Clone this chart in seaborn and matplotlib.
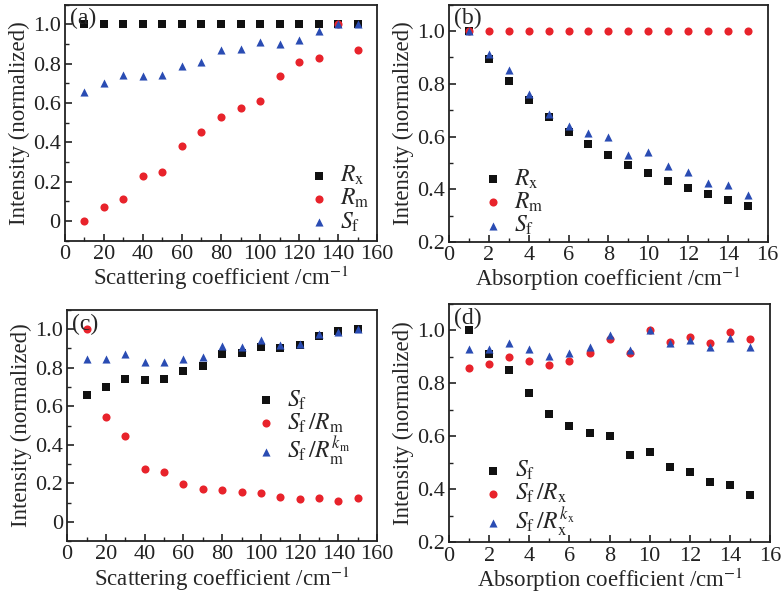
import matplotlib
matplotlib.use("Agg")
import matplotlib.pyplot as plt
from matplotlib.ticker import MultipleLocator, FuncFormatter
import seaborn as sns
import pandas as pd

# Data
scat = [10, 20, 30, 40, 50, 60, 70, 80, 90, 100, 110, 120, 130, 140, 150]
absn = [1, 2, 3, 4, 5, 6, 7, 8, 9, 10, 11, 12, 13, 14, 15]

# (a) vary scattering
a_rx = [1.0] * 15
a_rm = [0.0, 0.072, 0.114, 0.23, 0.25, 0.38, 0.455, 0.53, 0.576, 0.61, 0.738, 0.81, 0.83, 1.0, 0.869]
a_sf = [0.656, 0.702, 0.743, 0.739, 0.744, 0.787, 0.81, 0.872, 0.876, 0.911, 0.903, 0.92, 0.969, 1.0, 1.0]

# (b) vary absorption
b_rx = [1.0, 0.893, 0.811, 0.738, 0.673, 0.619, 0.572, 0.529, 0.493, 0.462, 0.433, 0.406, 0.381, 0.358, 0.336]
b_rm = [1.0] * 15
b_sf = [1.0, 0.912, 0.851, 0.762, 0.684, 0.641, 0.613, 0.599, 0.529, 0.540, 0.488, 0.467, 0.425, 0.415, 0.380]

# (c) corrected, vary scattering
c_sf = [0.656, 0.699, 0.741, 0.738, 0.743, 0.784, 0.807, 0.872, 0.875, 0.908, 0.901, 0.916, 0.966, 0.991, 1.0]
c_sf_rm = [1.0, 0.545, 0.445, 0.276, 0.26, 0.197, 0.173, 0.163, 0.154, 0.152, 0.127, 0.118, 0.122, 0.106, 0.122]
c_sf_rmk = [0.846, 0.846, 0.873, 0.829, 0.830, 0.844, 0.858, 0.914, 0.909, 0.942, 0.918, 0.925, 0.973, 0.986, 1.0]

# (d) corrected, vary absorption
d_sf = [1.0, 0.91, 0.851, 0.763, 0.683, 0.64, 0.613, 0.60, 0.53, 0.54, 0.485, 0.464, 0.426, 0.416, 0.38]
d_sf_rx = [0.859, 0.872, 0.90, 0.885, 0.869, 0.884, 0.916, 0.969, 0.916, 1.0, 0.958, 0.975, 0.954, 0.994, 0.966]
d_sf_rxk = [0.929, 0.931, 0.953, 0.93, 0.904, 0.914, 0.939, 0.982, 0.926, 1.0, 0.954, 0.965, 0.938, 0.97, 0.938]

BLACK = "#111111"
RED = "#e8232b"
BLUE = "#2a4cb3"

sns.set_theme(style="ticks")
plt.rcParams.update(
    {
        "font.family": ["Liberation Serif", "DejaVu Serif"],
        "mathtext.fontset": "stix",
        "axes.linewidth": 1.3,
        "xtick.direction": "in",
        "ytick.direction": "in",
        "xtick.major.size": 5,
        "ytick.major.size": 5,
        "xtick.minor.size": 3,
        "ytick.minor.size": 3,
        "xtick.major.width": 1.2,
        "ytick.major.width": 1.2,
        "xtick.minor.width": 1.0,
        "ytick.minor.width": 1.0,
        "axes.edgecolor": "#222222",
        "xtick.color": "#222222",
        "ytick.color": "#222222",
    }
)


def yfmt(v, pos):
    return "0" if abs(v) < 1e-9 else f"{v:.1f}"


def panel(fig, rect, x, series, tag, xlabel, xlim, xmajor, ylim, legend_loc, legend_anchor):
    ax = fig.add_axes(rect)
    for vals, label, color, marker in series:
        df = pd.DataFrame({"x": x, "y": vals})
        sns.scatterplot(
            data=df, x="x", y="y", ax=ax, color=color, marker=marker,
            s=34, linewidth=0, label=label, zorder=3,
        )
    ax.set_xlim(*xlim)
    ax.set_ylim(*ylim)
    ax.xaxis.set_major_locator(MultipleLocator(xmajor))
    ax.xaxis.set_minor_locator(MultipleLocator(xmajor / 2))
    ax.yaxis.set_major_locator(MultipleLocator(0.2))
    ax.yaxis.set_minor_locator(MultipleLocator(0.1))
    ax.yaxis.set_major_formatter(FuncFormatter(yfmt))
    ax.tick_params(labelsize=16, pad=3)
    ax.set_xlabel(xlabel, fontsize=16.5, labelpad=0)
    ax.set_ylabel("Intensity (normalized)", fontsize=16.5, labelpad=2)
    ax.text(0.015, 0.985, tag, transform=ax.transAxes, ha="left", va="top", fontsize=17)
    ax.legend(
        loc=legend_loc, bbox_to_anchor=legend_anchor, frameon=False, fontsize=17,
        handletextpad=-0.1, labelspacing=0.0, borderpad=0.1, markerscale=1.0,
    )
    return ax


fig = plt.figure(figsize=(7.81, 5.96), dpi=100)

xs_label = "Scattering coefficient /cm$^{-1}$"
xa_label = "Absorption coefficient /cm$^{-1}$"

panel(
    fig, [0.083, 0.596, 0.400, 0.396], scat,
    [(a_rx, r"$R_\mathrm{x}$", BLACK, "s"), (a_rm, r"$R_\mathrm{m}$", RED, "o"), (a_sf, r"$S_\mathrm{f}$", BLUE, "^")],
    "(a)", xs_label, (0, 160), 20, (-0.1, 1.1), "lower right", (1.02, -0.03),
)
panel(
    fig, [0.575, 0.594, 0.408, 0.398], absn,
    [(b_rx, r"$R_\mathrm{x}$", BLACK, "s"), (b_rm, r"$R_\mathrm{m}$", RED, "o"), (b_sf, r"$S_\mathrm{f}$", BLUE, "^")],
    "(b)", xa_label, (0, 16), 2, (0.2, 1.1), "lower left", (0.02, -0.04),
)
panel(
    fig, [0.086, 0.092, 0.397, 0.388], scat,
    [(c_sf, r"$S_\mathrm{f}$", BLACK, "s"), (c_sf_rm, r"$S_\mathrm{f}\,/R_\mathrm{m}$", RED, "o"),
     (c_sf_rmk, r"$S_\mathrm{f}\,/R_\mathrm{m}^{k_\mathrm{m}}$", BLUE, "^")],
    "(c)", xs_label, (0, 160), 20, (-0.1, 1.1), "center", (0.74, 0.49),
)
panel(
    fig, [0.575, 0.090, 0.411, 0.400], absn,
    [(d_sf, r"$S_\mathrm{f}$", BLACK, "s"), (d_sf_rx, r"$S_\mathrm{f}\,/R_\mathrm{x}$", RED, "o"),
     (d_sf_rxk, r"$S_\mathrm{f}\,/R_\mathrm{x}^{k_\mathrm{x}}$", BLUE, "^")],
    "(d)", xa_label, (0, 16), 2, (0.2, 1.1), "lower left", (0.02, -0.04),
)

fig.savefig("out.png", dpi=100)
